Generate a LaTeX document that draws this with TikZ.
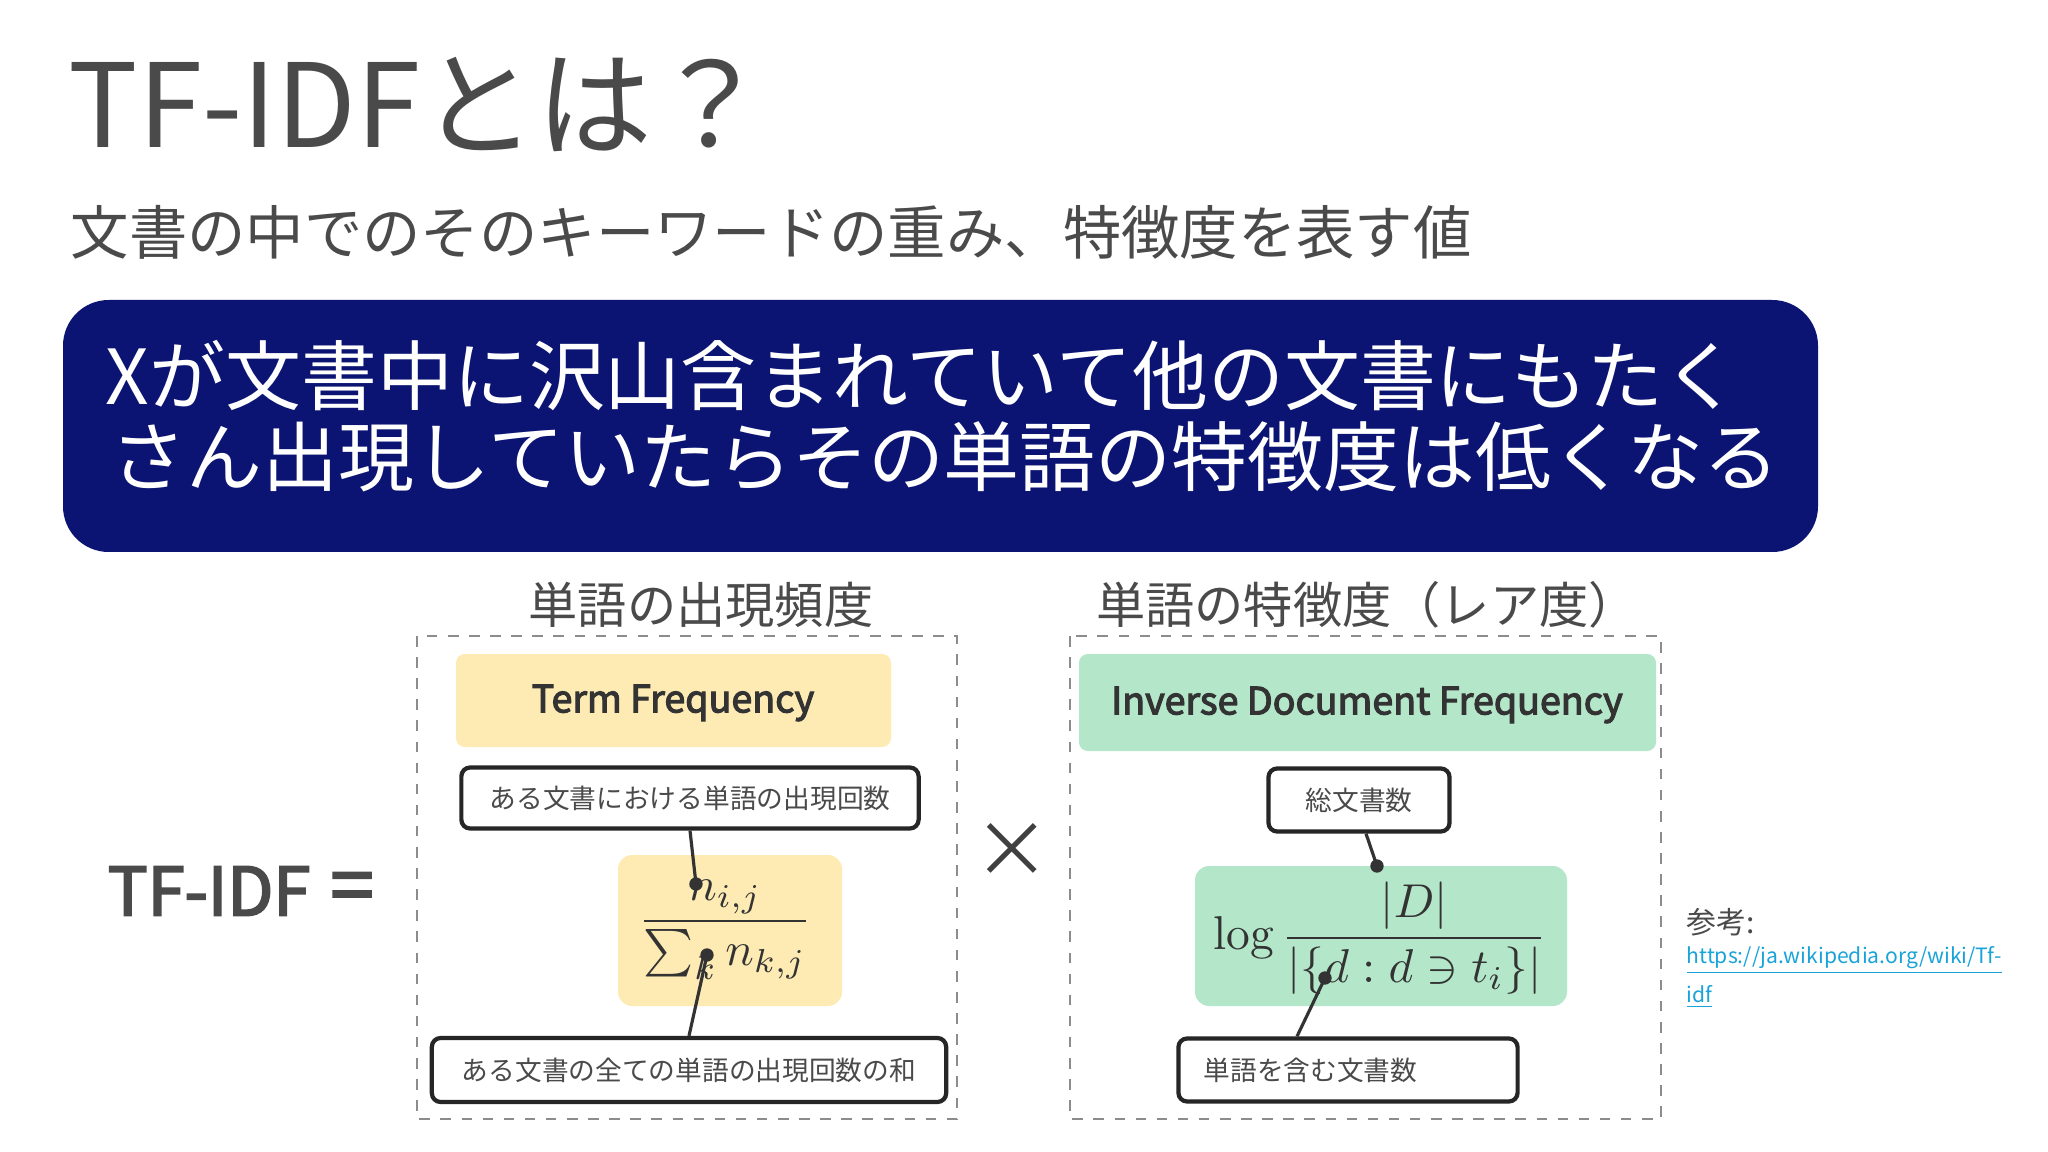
\documentclass[tikz,border=0pt]{standalone}
\usepackage{fontspec}
\usepackage{amsmath,amssymb}
\setmainfont{Noto Sans CJK JP}
\newfontfamily\jp{Noto Sans CJK JP}
\newfontfamily\jpb{Noto Sans CJK JP}[FakeBold=3]
\newfontfamily\lmr{Latin Modern Roman}
\definecolor{navy}{HTML}{0B1472}
\definecolor{tfy}{HTML}{FDEBB3}
\definecolor{idfg}{HTML}{B4E7CA}
\definecolor{txt}{HTML}{4A4A4A}
\definecolor{link}{HTML}{1AA3D9}
\tikzset{
  lbl/.style={draw=black!85,line width=1.2pt,rounded corners=2.5pt,fill=white,inner sep=0pt},
  dashbox/.style={draw=black!45,dashed,line width=0.6pt},
  conn/.style={draw=black!80,line width=0.9pt},
  dotc/.style={circle,fill=black!80,inner sep=0pt,minimum size=3.8pt}
}
\begin{document}
\begin{tikzpicture}[x=0.01cm,y=-0.01cm]
\useasboundingbox (0,0) rectangle (2048,1152);
\fill[white] (0,0) rectangle (2048,1152);
% title
\node[anchor=base west,inner sep=0,text=txt,font=\fontsize{33}{38}\selectfont] (title) at (68,148) {TF-IDFとは？};
\node[anchor=west,inner sep=0,text=txt,font=\fontsize{16.6}{19}\selectfont] (sub) at (70,232) {文書の中でのそのキーワードの重み、特徴度を表す値};
% blue banner
\fill[navy,rounded corners=13pt] (63,300) rectangle (1818,552);
\node[anchor=west,inner sep=0,text=white,font=\fontsize{21.6}{24}\selectfont] (l1) at (105,376) {Xが文書中に沢山含まれていて他の文書にもたく};
\node[anchor=west,inner sep=0,text=white,font=\fontsize{21.6}{24}\selectfont] (l2) at (110,457) {さん出現していたらその単語の特徴度は低くなる};
% headings
\node[text=txt,font=\fontsize{14}{16}\selectfont] (h1) at (701,605) {単語の出現頻度};
\node[text=txt,font=\fontsize{14}{16}\selectfont] (h2) at (1367,605) {単語の特徴度（レア度）};
% dashed boxes
\draw[dashbox] (417,636) rectangle (957,1119);
\draw[dashbox] (1070,636) rectangle (1661,1119);
% headers
\fill[tfy,rounded corners=2.5pt] (456,654) rectangle (891,747);
\node[text=black!80,font=\jpb\fontsize{10.7}{13}\selectfont] (tf) at (673,703) {Term Frequency};
\fill[idfg,rounded corners=2.5pt] (1079,654) rectangle (1656,751);
\node[text=black!80,font=\jpb\fontsize{10.7}{13}\selectfont] (idf) at (1367,705) {Inverse Document Frequency};
% formula boxes
\fill[tfy,rounded corners=4pt] (618,855) rectangle (842,1006);
\node[text=black!80,scale=1.35] (ftf) at (725,930) {$\dfrac{n_{i,j}}{\sum_k n_{k,j}}$};
\fill[idfg,rounded corners=4pt] (1195,866) rectangle (1567,1006);
\node[text=black!80,scale=1.35] (fidf) at (1380,938) {{\lmr log}\,$\dfrac{|D|}{|\{d:d\ni t_i\}|}$};
% label boxes
\node[lbl,minimum width=4.57cm,minimum height=0.61cm,font=\fontsize{7.6}{9}\selectfont,text=txt] (b1) at (690,798) {ある文書における単語の出現回数};
\node[lbl,minimum width=5.14cm,minimum height=0.64cm,font=\fontsize{7.6}{9}\selectfont,text=txt] (b2) at (689,1070) {ある文書の全ての単語の出現回数の和};
\node[lbl,minimum width=1.81cm,minimum height=0.63cm,font=\fontsize{7.6}{9}\selectfont,text=txt] (b3) at (1359,800) {総文書数};
\node[lbl,minimum width=3.39cm,minimum height=0.63cm,font=\fontsize{7.6}{9}\selectfont,text=txt] (b4) at (1348,1070) {\hspace*{-0.75cm}単語を含む文書数};
% dots and connectors
\coordinate (d1) at (696,884);
\coordinate (d2) at (707,955);
\coordinate (d3) at (1377,866);
\coordinate (d4) at (1325,978);
\draw[conn] (b1.south -| 690,0) -- (d1);
\draw[conn] (b2.north -| 689,0) -- (d2);
\draw[conn] (b3.south -| 1366,0) -- (d3);
\draw[conn] (b4.north -| 1297,0) -- (d4);
\node[dotc] (p1) at (d1) {};
\node[dotc] (p2) at (d2) {};
\node[dotc] (p3) at (d3) {};
\node[dotc] (p4) at (d4) {};
% times and equation
\node[text=black!75,font=\fontsize{22}{24}\selectfont] (times) at (1012,850) {×};
\node[anchor=west,text=txt,font=\jpb\fontsize{19}{22}\selectfont,inner sep=0] (tfidf) at (107,891) {TF-IDF};
\node[text=txt,font=\jpb\fontsize{22}{24}\selectfont,inner sep=0] (eq) at (352,893) {=};
% reference
\node[anchor=west,inner sep=0,text=txt,font=\fontsize{8.5}{10}\selectfont] (ref) at (1686,922) {参考:};
\node[anchor=west,inner sep=0,text=link,font=\fontsize{6}{8}\selectfont] (u1) at (1686,960) {\underline{https://ja.wikipedia.org/wiki/Tf-}};
\node[anchor=west,inner sep=0,text=link,font=\fontsize{6}{8}\selectfont] (u2) at (1686,997) {\underline{idf}};
\end{tikzpicture}
\end{document}
